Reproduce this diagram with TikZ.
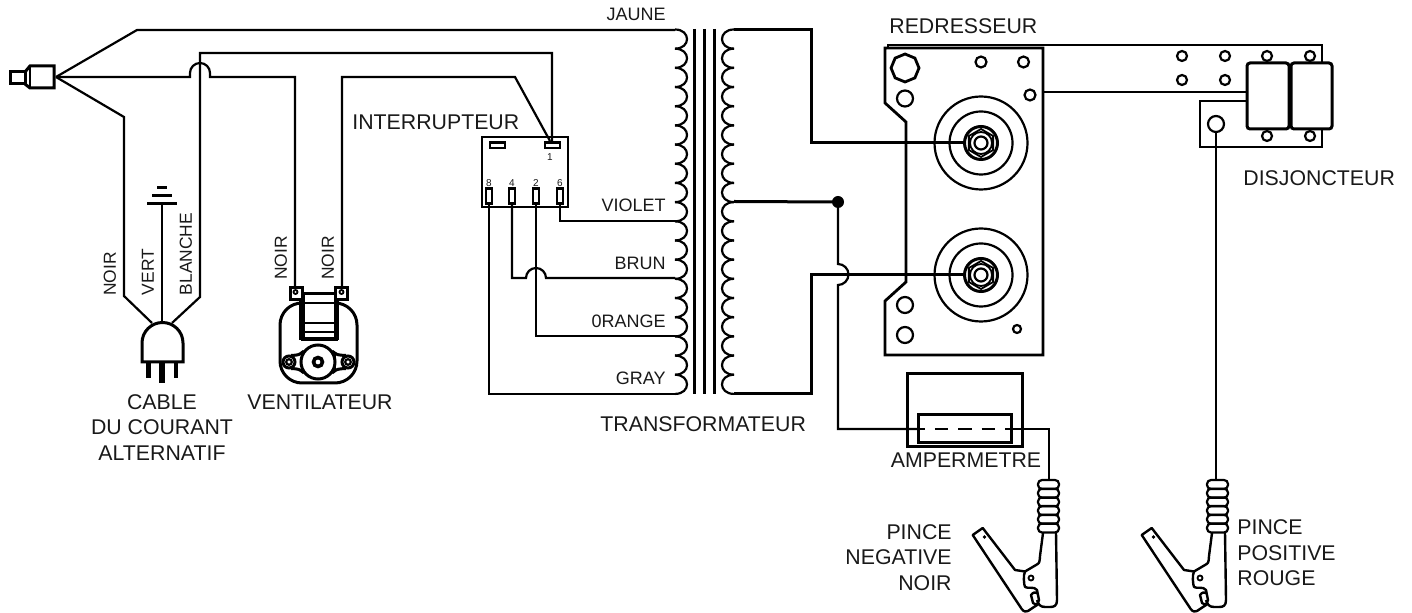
\documentclass[tikz,border=0pt]{standalone}
\usepackage{fontspec}
\setmainfont{Liberation Sans}
\newcommand{\clampdraw}{%
  \foreach \ry in {480,488.7,497.4,506.1,514.8,523.5}
    \draw[wirel,rounded corners=2pt] (1038,\ry) rectangle (1059,\ry+9);
  \draw[clampl,line join=round] (1043,533) -- (1040,556) .. controls (1039.5,563) .. (1036,565) -- (1025,571.5) -- (1015,570) -- (982.7,528) -- (972.7,535) -- (1021.7,609) .. controls (1024,612) and (1026,612) .. (1028,611) -- (1037,605);
  \draw[clampl,line join=round] (1056,533) -- (1057,600) .. controls (1057,606) and (1054,607) .. (1050,607) -- (1045,607) .. controls (1040,607) and (1038,604) .. (1037,600);
  \draw[clampl,line join=round] (1025,571.5) .. controls (1023,575) and (1024,585) .. (1025,587) .. controls (1028,589) and (1034,586) .. (1037,590) -- (1039,600) -- (1037,605) -- (1033,603) -- (1031,595) .. controls (1033,592) and (1036,592) .. (1037,593);
  \draw[thinl] (1031,578) circle (2.5);
  \fill (984.5,537) circle (1.8);
}
\newcommand{\nutdraw}[2]{%
  \begin{scope}[shift={(#1,#2)}]
    \draw[wirel] (0,0) circle (46.5);
    \draw[wirel] (0,0) circle (31.5);
    \draw[thickl,fill=white] (0,0) circle (16.5);
    \draw[thinl] (30:14) -- (90:14) -- (150:14) -- (210:14) -- (270:14) -- (330:14) -- cycle;
    \draw[thinl] (0,0) circle (11);
    \draw[wirel] (0,0) circle (6.5);
  \end{scope}%
}
\tikzset{
  wirel/.style={line width=1.1pt,draw=black},
  clampl/.style={line width=1.2pt,draw=black},
  thinl/.style={line width=0.9pt,draw=black},
  thickl/.style={line width=1.5pt,draw=black},
  heavyl/.style={line width=2.2pt,draw=black},
  hole/.style={line width=1.1pt,draw=black,fill=white},
  bigtext/.style={inner sep=0pt,font=\fontsize{10.65}{12.75}\selectfont,text=black!90},
  wiretext/.style={inner sep=0pt,font=\fontsize{9}{11}\selectfont,text=black!90},
  rottext/.style={inner sep=0pt,rotate=90,font=\fontsize{8.7}{11}\selectfont,text=black!90},
  pintext/.style={inner sep=0pt,font=\fontsize{5}{6}\selectfont,text=black!90},
}
\begin{document}
\begin{tikzpicture}[x=0.5pt,y=-0.5pt]
\useasboundingbox (0,0) rectangle (1412,613);
% ---- named points
\coordinate (apex) at (56,77);
\coordinate (hopA) at (190,77);
\coordinate (hopB) at (210,77);
\coordinate (fanL) at (295,288);
\coordinate (fanR) at (342,288);
\coordinate (sw1) at (552,143);
\coordinate (p8) at (489,203);
\coordinate (p4) at (512,203);
\coordinate (p2) at (536,203);
\coordinate (p6) at (560,203);
\coordinate (tapT) at (675,30);
\coordinate (tapV) at (675,221);
\coordinate (tapB) at (675,278);
\coordinate (tapO) at (675,336);
\coordinate (tapG) at (675,394);
\coordinate (secT) at (734,30);
\coordinate (secM) at (734,201.5);
\coordinate (secB) at (734,394);
\coordinate (nutA) at (965,143);
\coordinate (nutB) at (965,275);
\coordinate (dot) at (838,202);
\coordinate (ammL) at (918,429);
\coordinate (ammR) at (1011,429);
\coordinate (clampN) at (1049,481);
\coordinate (clampP) at (1216,481);
\coordinate (brkHole) at (1216,124);
% ---- plug at left
\draw[thickl,line join=miter] (10,72) rectangle (25,84);
\draw[thickl] (25,72) -- (30,66) -- (54,66) -- (54,88) -- (30,88) -- (25,84);
\draw[thinl] (30,66) -- (30,88);
% ---- cord wires
\draw[wirel] (apex) -- (137,30) -- (tapT);
\draw[wirel] (apex) -- (hopA) -- (190,73) arc[start angle=180,end angle=360,radius=10] -- (hopB) -- (295,77) -- (fanL);
\draw[wirel] (152,323) -- (124,296) -- (124,117) -- (apex);
\draw[wirel] (172,323) -- (200,297) -- (200,53) -- (552,53) -- (sw1);
\draw[wirel] (fanR) -- (342,77) -- (515,77) -- (550,141);
% ---- ground and AC plug
\draw[line width=1.2pt] (162,204) -- (162,323);
\draw[line width=1.5pt] (147,204) -- (177,204);
\draw[line width=1.5pt] (152,196) -- (172,196);
\draw[line width=1.5pt] (157,188) -- (167,188);
\draw[thickl] (142,362) -- (142,343) arc[start angle=180,end angle=360,radius=20.5] -- (183,362) -- cycle;
\draw[line width=2.4pt] (148.5,362) -- (148.5,378);
\draw[line width=2.6pt] (162,362) -- (162,383);
\draw[line width=2.4pt] (176,362) -- (176,378);
% ---- fan
\draw[thickl,rounded corners=11pt] (280,303) rectangle (357,383);
\draw[thickl,fill=white] (303,294) rectangle (335,339);
\draw[heavyl] (301.5,298) -- (301.5,340);
\draw[heavyl] (337,298) -- (337,340);
\draw[wirel] (301,303) -- (338,303);
\draw[wirel] (301,323) -- (338,323);
\draw[wirel] (301,332) -- (338,332);
\draw[heavyl] (301,339) -- (338,339);
\draw[thickl,fill=white] (290,288) rectangle (302,300);
\draw[thickl,fill=white] (335,288) rectangle (347,300);
\draw[thinl] (295.5,292) circle (2);
\draw[thinl] (341.5,292) circle (2);
\draw[thickl] (304,351) .. controls (299,355) .. (291,355.5);
\draw[thickl] (304,373) .. controls (299,369) .. (291,368.5);
\draw[thickl] (332,351) .. controls (337,355) .. (346,355.5);
\draw[thickl] (332,373) .. controls (337,369) .. (346,368.5);
\draw[thickl] (302,352) -- (302,372);
\draw[thickl] (334,352) -- (334,372);
\draw[thickl,fill=white] (318,362) circle (17);
\draw[line width=1.8pt] (318,362) circle (4.5);
\draw[thickl,fill=white] (289,362) circle (6);
\draw[wirel] (289,362) circle (2.8);
\draw[thickl,fill=white] (348,362) circle (6);
\draw[wirel] (348,362) circle (2.8);
% ---- switch
\draw[line width=1.3pt] (482,137) rectangle (568,207);
\draw[line width=1.2pt] (490,142.5) rectangle (505,148);
\draw[line width=1.2pt] (545,142.5) rectangle (560,148);
\foreach \px in {489,512,536,560}
  \draw[line width=1.2pt] (\px-3,188.5) rectangle (\px+3,203.5);
\draw[wirel] (p8) -- (489,394) -- (tapG);
\draw[wirel] (p4) -- (512,278) -- (526,278) arc[start angle=180,end angle=360,radius=10] -- (tapB);
\draw[wirel] (p2) -- (536,336) -- (tapO);
\draw[wirel] (p6) -- (560,221) -- (tapV);
% ---- transformer
\foreach \i in {0,...,18} {
  \pgfmathsetmacro{\ya}{29.5+19.18*\i}
  \pgfmathsetmacro{\yb}{29.5+19.18*(\i+1)}
  \draw[wirel] (675,\ya) .. controls (691,\ya) and (691,\yb) .. (675,\yb);
  \draw[wirel] (734,\ya) .. controls (718,\ya) and (718,\yb) .. (734,\yb);
}
\foreach \cx in {694.5,704.5,714.5}
  \draw[wirel] (\cx,29) -- (\cx,394.5);
\draw[thickl] (secT) -- (811,30) -- (811,143) -- (nutA);
\draw[thickl] (secM) -- (dot);
\draw[thickl] (secB) -- (811,394) -- (811,275) -- (nutB);
\fill (dot) circle (6);
\draw[wirel] (dot) -- (838,264) arc[start angle=270,end angle=450,radius=10.5] -- (838,429) -- (ammL);
% ---- rectifier
\draw[line width=1.4pt] (885,48) -- (1043,48) -- (1043,355) -- (885,355) -- (885,301) -- (906,282) -- (906,122) -- (885,103) -- cycle;
\draw[thinl] (888,48) -- (888,45) -- (1322,45) -- (1322,63);
\draw[wirel] (1043,92) -- (1247,92);
\draw[line width=1.4pt] (905,68) ++(0:14) -- ++(112.5:10.7) -- ++(157.5:10.7) -- ++(202.5:10.7) -- ++(247.5:10.7) -- ++(292.5:10.7) -- ++(337.5:10.7) -- ++(22.5:10.7) -- cycle;
\draw[hole] (905,98.5) circle (8);
\draw[hole] (981,62) circle (5.5);
\draw[hole] (1023.5,62) circle (5.5);
\draw[hole] (1030,95) circle (5.5);
\draw[hole] (905,305) circle (8);
\draw[hole] (905,335) circle (8);
\draw[hole] (1017,329) circle (4);
\nutdraw{981}{143}
\nutdraw{981}{275}
% ---- breaker
\draw[wirel] (1247,101) -- (1200,101) -- (1200,147) -- (1322,147) -- (1322,125);
\foreach \hx/\hy in {1182/56,1225/56,1267/56,1310/56,1182/80,1225/80,1267/136,1310/136}
  \draw[hole] (\hx,\hy) circle (5);
\draw[thickl,fill=white,rounded corners=1.5pt] (1247,63) rectangle (1289,129);
\draw[thickl,fill=white,rounded corners=1.5pt] (1291,63) rectangle (1332,129);
\draw[hole] (brkHole) circle (8);
\draw[wirel] (1216,132) -- (clampP);
% ---- ammeter
\draw[thickl] (907,374) rectangle (1022,447);
\draw[thickl,fill=white] (918,415) rectangle (1011,443);
\draw[line width=0.7pt,dash pattern=on 6.7pt off 5pt,dash phase=3.25pt] (ammL) -- (ammR);
\draw[wirel] (ammR) -- (1049,429) -- (clampN);
% ---- clamps
\clampdraw
\begin{scope}[shift={(169,0)}]
\clampdraw
\end{scope}
% ---- texts
\node[rottext] (tNoirA) at (110,274) {NOIR};
\node[rottext] (tVert) at (148,272) {VERT};
\node[rottext] (tBlanche) at (186,254) {BLANCHE};
\node[rottext] (tNoirB) at (281,258) {NOIR};
\node[rottext] (tNoirC) at (328,258) {NOIR};
\node[bigtext,align=center,anchor=north] (tCable) at (162,394) {CABLE\\DU COURANT\\ALTERNATIF};
\node[bigtext] (tVent) at (320,402) {VENTILATEUR};
\node[bigtext,anchor=west] (tInter) at (352,122) {INTERRUPTEUR};
\node[bigtext,anchor=west] (tTrans) at (600,424) {TRANSFORMATEUR};
\node[bigtext,anchor=west] (tRedr) at (889,26) {REDRESSEUR};
\node[bigtext,anchor=west] (tDisj) at (1243,178) {DISJONCTEUR};
\node[bigtext] (tAmp) at (966,460) {AMPERMETRE};
\node[wiretext,anchor=east] (tJ) at (666,14) {JAUNE};
\node[wiretext,anchor=east] (tV) at (666,205) {VIOLET};
\node[wiretext,anchor=east] (tB) at (666,263) {BRUN};
\node[wiretext,anchor=east] (tO) at (666,321) {0RANGE};
\node[wiretext,anchor=east] (tG) at (666,378) {GRAY};
\node[bigtext,anchor=east] (tP1) at (952,532) {PINCE};
\node[bigtext,anchor=east] (tP2) at (952,557) {NEGATIVE};
\node[bigtext,anchor=east] (tP3) at (952,583) {NOIR};
\node[bigtext,anchor=west] (tQ1) at (1237,527) {PINCE};
\node[bigtext,anchor=west] (tQ2) at (1237,553) {POSITIVE};
\node[bigtext,anchor=west] (tQ3) at (1237,578) {ROUGE};
\node[pintext] (n1) at (550,157) {1};
\node[pintext] (n8) at (489,183) {8};
\node[pintext] (n4) at (512,183) {4};
\node[pintext] (n2) at (536,183) {2};
\node[pintext] (n6) at (560,183) {6};
\end{tikzpicture}
\end{document}
